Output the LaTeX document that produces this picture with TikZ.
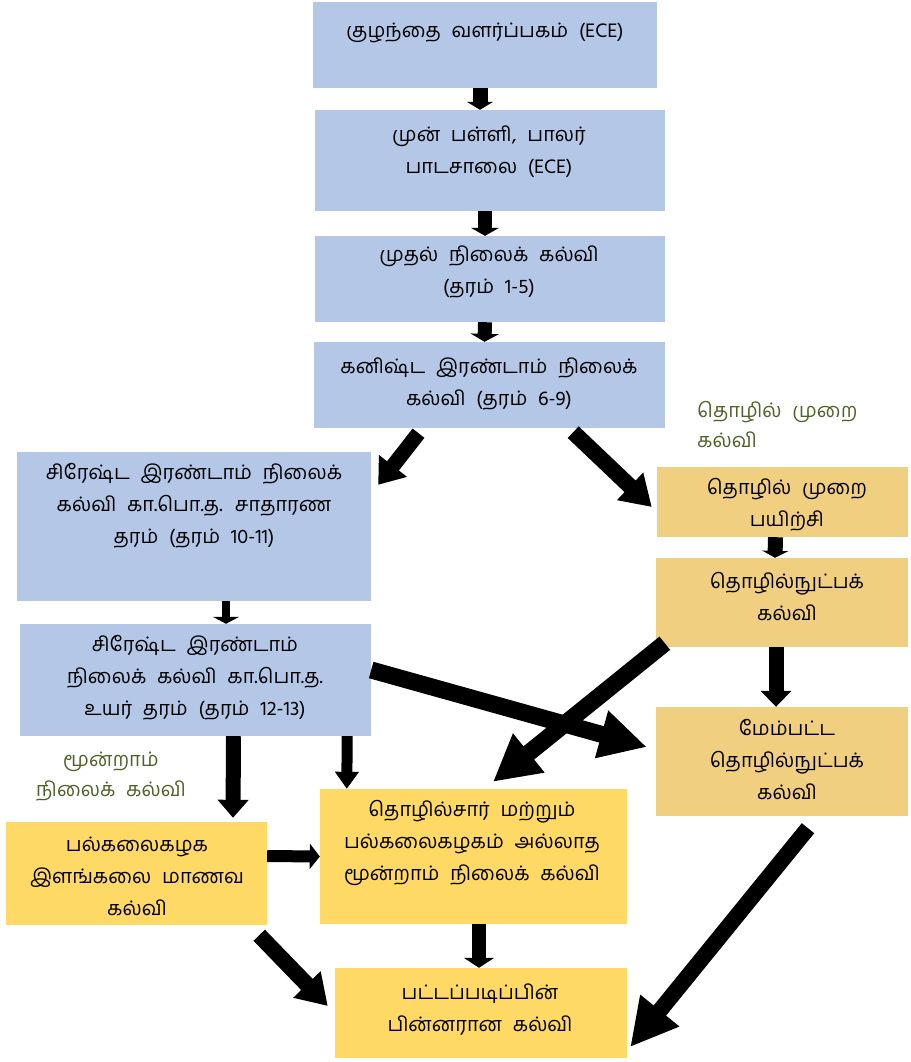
\documentclass[tikz,border=0pt]{standalone}
\usepackage{fontspec}
\newfontfamily\tamil[Script=Tamil,WordSpace=2.2]{Hind Madurai}
\usetikzlibrary{arrows.meta,calc,positioning}

\definecolor{boxblue}{RGB}{180,199,231}
\definecolor{boxtan}{RGB}{240,207,128}
\definecolor{boxyellow}{RGB}{255,217,102}
\definecolor{labelgreen}{RGB}{79,98,40}

\tikzset{
  stage/.style={rectangle, inner sep=0pt, fill=#1},
  stagetext/.style={font=\tamil\fontsize{20}{32}\selectfont, align=center, inner sep=0pt},
  sidelabel/.style={font=\tamil\fontsize{20}{30}\selectfont, text=labelgreen, inner sep=0pt},
  flow/.style n args={3}{line width=#1, -{Triangle[width=#2,length=#3]}}
}

\begin{document}
\begin{tikzpicture}[x=1pt, y=-1pt]
\useasboundingbox (0,0) rectangle (910,1062);

% school stages
\node[stage=boxblue, minimum width=344pt, minimum height=86pt]  (ece) at (485,45)    {};
\node[stage=boxblue, minimum width=350pt, minimum height=101pt] (pre) at (490,160.5) {};
\node[stage=boxblue, minimum width=350pt, minimum height=86pt]  (pri) at (490,279)   {};
\node[stage=boxblue, minimum width=351pt, minimum height=86pt]  (jun) at (489.5,385) {};
\node[stage=boxblue, minimum width=354pt, minimum height=149pt] (sen) at (194,526.5) {};
\node[stage=boxblue, minimum width=351pt, minimum height=112pt] (adv) at (195.5,680) {};

% vocational side
\node[stage=boxtan, minimum width=251pt, minimum height=70pt]  (voc)  at (782.5,502) {};
\node[stage=boxtan, minimum width=252pt, minimum height=89pt]  (tec)  at (782,602.5) {};
\node[stage=boxtan, minimum width=252pt, minimum height=109pt] (atec) at (782,761.5) {};

% tertiary
\node[stage=boxyellow, minimum width=261pt, minimum height=103pt] (uni) at (136.5,873.5) {};
\node[stage=boxyellow, minimum width=307pt, minimum height=135pt] (ntr) at (473.5,856.5) {};
\node[stage=boxyellow, minimum width=292pt, minimum height=90pt]  (pg)  at (481,1013)    {};

% texts
\node[stagetext] (ece-t)  at (485,33)  {குழந்தை வளர்ப்பகம் (ECE)};
\node[stagetext] (pre-t)  at (489,152) {முன் பள்ளி, பாலர்\\பாடசாலை (ECE)};
\node[stagetext] (pri-t)  at (489,272) {முதல் நிலைக் கல்வி\\(தரம் 1-5)};
\node[stagetext] (jun-t)  at (489,384) {கனிஷ்ட இரண்டாம் நிலைக்\\கல்வி (தரம் 6-9)};
\node[stagetext] (sen-t)  at (194,506) {சிரேஷ்ட இரண்டாம் நிலைக்\\கல்வி கா.பொ.த. சாதாரண\\தரம் (தரம் 10-11)};
\node[stagetext] (adv-t)  at (195,678) {சிரேஷ்ட இரண்டாம்\\நிலைக் கல்வி கா.பொ.த.\\உயர் தரம் (தரம் 12-13)};
\node[stagetext] (voc-t)  at (787,505) {தொழில் முறை\\பயிற்சி};
\node[stagetext] (tec-t)  at (787,597) {தொழில்நுட்பக்\\கல்வி};
\node[stagetext] (atec-t) at (787,760) {மேம்பட்ட\\தொழில்நுட்பக்\\கல்வி};
\node[stagetext] (uni-t)  at (137,876) {பல்கலைகழக\\இளங்கலை மாணவ\\கல்வி};
\node[stagetext] (ntr-t)  at (472,843) {தொழில்சார் மற்றும்\\பல்கலைகழகம் அல்லாத\\மூன்றாம் நிலைக் கல்வி};
\node[stagetext] (pg-t)   at (480,1010) {பட்டப்படிப்பின்\\பின்னரான கல்வி};

\node[sidelabel, align=left, anchor=west]  (voc-l) at (697,425) {தொழில் முறை\\கல்வி};
\node[sidelabel, align=center]             (ter-l) at (111,777) {மூன்றாம்\\நிலைக் கல்வி};

% arrows
\draw[flow={15pt}{26pt}{8pt}] ($(ece.south)+(-5,0)$) -- ($(pre.north)+(-10,0)$);
\draw[flow={14pt}{28pt}{8pt}] ($(pre.south)+(-5,0)$) -- ($(pri.north)+(-5,0)$);
\draw[flow={14pt}{28pt}{8pt}] ($(pri.south)+(-5,0)$) -- ($(jun.north)+(-5,0)$);
\draw[flow={15pt}{34pt}{24pt}] ($(jun.south)+(-71,5)$) -- ($(sen.north east)+(7,33)$);
\draw[flow={16pt}{36pt}{30pt}] ($(jun.south east)+(-92,4)$) -- ($(voc.west)+(-5,5)$);
\draw[flow={8pt}{26pt}{7pt}]   ($(sen.south)+(32,0)$) -- ($(adv.north)+(30.5,0)$);
\draw[flow={15pt}{30pt}{18pt}] ($(adv.south)+(38,0)$) -- ($(uni.north)+(96.5,-4)$);
\draw[flow={11pt}{23pt}{17pt}] ($(adv.south east)+(-24,0)$) -- ($(ntr.north west)+(27,0)$);
\draw[flow={17pt}{46pt}{47pt}] ($(adv.east)+(0,-10)$) -- ($(atec.west)+(-9,-14.5)$);
\draw[flow={15pt}{26pt}{7pt}]  ($(voc.south)+(-7,0)$) -- ($(tec.north)+(-7,0)$);
\draw[flow={15pt}{30pt}{16pt}] ($(tec.south)+(-6,0)$) -- ($(atec.north)+(-6,0)$);
\draw[flow={17pt}{47pt}{46pt}] ($(tec.south west)+(9,-4)$) -- ($(ntr.north)+(19.5,-7)$);
\draw[flow={16pt}{47pt}{47pt}] ($(atec.south)+(26,12)$) -- ($(pg.east)+(3,34)$);
\draw[flow={12pt}{25pt}{10pt}] ($(uni.east)+(0,-17.5)$) -- (ntr.west);
\draw[flow={16pt}{36pt}{30pt}] ($(uni.south east)+(-8,10)$) -- ($(pg.west)+(-7,-7)$);
\draw[flow={14pt}{30pt}{10pt}] ($(ntr.south)+(5.5,0)$) -- ($(pg.north)+(-2,0)$);
\end{tikzpicture}
\end{document}
